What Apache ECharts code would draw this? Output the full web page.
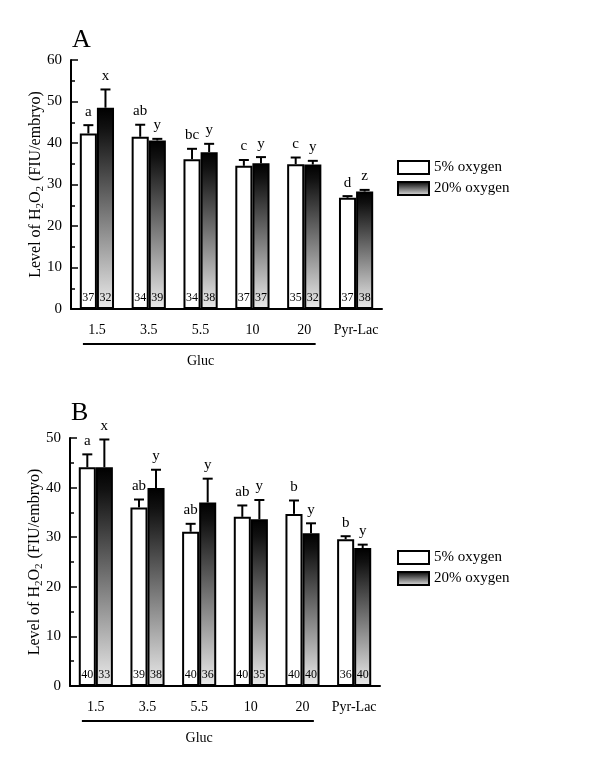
<!DOCTYPE html>
<html><head><meta charset="utf-8">
<script src="https://cdn.jsdelivr.net/npm/echarts@6/dist/echarts.min.js"></script>
<style>html,body{margin:0;padding:0;background:#fff}#c{width:600px;height:763px}</style>
</head><body><div id="c"></div>
<script>
const categories = ['1.5', '3.5', '5.5', '10', '20', 'Pyr-Lac'];
const seriesNames = ['5% oxygen', '20% oxygen'];

// Panel A
const meanA5 = [42.3, 41.5, 36.1, 34.5, 34.9, 26.8];
const semA5 = [2.0, 2.9, 2.5, 1.4, 1.6, 0.4];
const meanA20 = [48.5, 40.6, 37.8, 35.1, 34.8, 28.3];
const semA20 = [4.4, 0.4, 2.0, 1.5, 0.9, 0.4];
const letA5 = ['a', 'ab', 'bc', 'c', 'c', 'd'];
const letA20 = ['x', 'y', 'y', 'y', 'y', 'z'];
const nA5 = [37, 34, 34, 37, 35, 37];
const nA20 = [32, 39, 38, 37, 32, 38];
const ticksA = { min: 0, max: 60, interval: 10, minor: 5 };

// Panel B
const meanB5 = [44.1, 36.0, 31.1, 34.1, 34.7, 29.6];
const semB5 = [2.6, 1.6, 1.6, 2.3, 2.7, 0.6];
const meanB20 = [44.1, 39.9, 37.0, 33.6, 30.8, 27.8];
const semB20 = [5.6, 3.7, 4.8, 3.9, 2.0, 0.7];
const letB5 = ['a', 'ab', 'ab', 'ab', 'b', 'b'];
const letB20 = ['x', 'y', 'y', 'y', 'y', 'y'];
const nB5 = [40, 39, 40, 40, 40, 36];
const nB20 = [33, 38, 36, 35, 40, 40];
const ticksB = { min: 0, max: 50, interval: 10, minor: 5 };

const FONT = '"Liberation Serif", "Times New Roman", serif';
const darkGrad = { type: 'linear', x: 0, y: 0, x2: 0, y2: 1,
  colorStops: [{ offset: 0, color: '#000' }, { offset: 0.1, color: '#111' }, { offset: 1, color: '#ebebeb' }] };
const BARW = 0.33;

function xAxis(gi) {
  return {
    type: 'category', gridIndex: gi, data: categories,
    axisLine: { lineStyle: { color: '#000', width: 2 } },
    axisTick: { show: false },
    axisLabel: { interval: 0, color: '#000', fontSize: 14, fontFamily: FONT, margin: 14 }
  };
}
function yAxisMain(gi, t) {
  return {
    type: 'value', gridIndex: gi, position: 'left', min: t.min, max: t.max, interval: t.interval,
    name: '{a|Level of H}{s|2}{a|O}{t|2}{a|(FIU/embryo)}',
    nameLocation: 'middle', nameGap: 25, nameRotate: 90, nameMoveOverlap: false,
    nameTextStyle: {
      rich: {
        a: { fontSize: 16, fontFamily: FONT, color: '#000', lineHeight: 18, verticalAlign: 'top' },
        s: { fontSize: 11, fontFamily: FONT, color: '#000', lineHeight: 11, verticalAlign: 'bottom' },
        t: { fontSize: 11, fontFamily: FONT, color: '#000', lineHeight: 11, verticalAlign: 'bottom', padding: [0, 5, 0, 0] }
      }
    },
    axisLine: { show: true, lineStyle: { color: '#000', width: 2 } },
    axisTick: { show: true, inside: true, length: 7, lineStyle: { color: '#000', width: 1.5 } },
    splitLine: { show: false },
    axisLabel: { color: '#000', fontSize: 15, fontFamily: FONT, margin: 9 }
  };
}
function yAxisMinor(gi, t) {
  return {
    type: 'value', gridIndex: gi, position: 'left', offset: 0, min: t.min, max: t.max, interval: t.minor,
    axisLine: { show: false },
    axisTick: { show: true, inside: true, length: 4, lineStyle: { color: '#000', width: 1.5 } },
    splitLine: { show: false },
    axisLabel: { show: false }
  };
}
function bar(name, gi, yi, means, ns, dark) {
  return {
    type: 'bar', name: name, xAxisIndex: gi, yAxisIndex: yi,
    data: means, barWidth: (BARW * 100) + '%', barGap: '0%',
    itemStyle: { color: dark ? darkGrad : '#fff', borderColor: '#000', borderWidth: 2 },
    label: {
      show: true, position: 'insideBottom', distance: 5,
      formatter: p => String(ns[p.dataIndex]),
      color: '#000', fontSize: 12, fontFamily: FONT
    },
    emphasis: { disabled: true }, z: 2
  };
}
function err(gi, yi, means, sems, letters, side) {
  return {
    type: 'custom', xAxisIndex: gi, yAxisIndex: yi, z: 5, silent: true,
    data: means.map((m, i) => [i, m]),
    renderItem: function (params, api) {
      const i = params.dataIndex;
      const bw = api.size([1, 0])[0];
      const base = api.coord([i, means[i]]);
      const top = api.coord([i, means[i] + sems[i]]);
      const cx = base[0] + side * bw * BARW / 2;
      const cap = 5;
      return { type: 'group', children: [
        { type: 'line', shape: { x1: cx, y1: base[1], x2: cx, y2: top[1] }, style: { stroke: '#000', lineWidth: 2 } },
        { type: 'line', shape: { x1: cx - cap, y1: top[1], x2: cx + cap, y2: top[1] }, style: { stroke: '#000', lineWidth: 2 } },
        { type: 'text', x: cx, y: top[1] - 6, style: { text: letters[i], align: 'center', verticalAlign: 'bottom', fontSize: 15, fontFamily: FONT, fill: '#000' } }
      ]};
    }
  };
}
function legend(top) {
  return {
    left: 392, top: top, orient: 'vertical', data: seriesNames, icon: 'rect',
    itemWidth: 31, itemHeight: 13, itemGap: 6, itemTextGap: 6,
    textStyle: { fontSize: 15, fontFamily: FONT, color: '#000' },
    selectedMode: false
  };
}

const chart = echarts.init(document.getElementById('c'));
chart.setOption({
  animation: false,
  backgroundColor: '#fff',
  title: [
    { text: 'A', left: 67, top: 22, textStyle: { fontSize: 26, fontWeight: 'normal', fontFamily: FONT, color: '#000' } },
    { text: 'B', left: 66, top: 395, textStyle: { fontSize: 26, fontWeight: 'normal', fontFamily: FONT, color: '#000' } }
  ],
  legend: [legend(155), legend(545)],
  grid: [
    { left: 71, top: 60, width: 311, height: 249, outerBoundsMode: 'none' },
    { left: 70, top: 438, width: 310, height: 248, outerBoundsMode: 'none' }
  ],
  xAxis: [xAxis(0), xAxis(1)],
  yAxis: [yAxisMain(0, ticksA), yAxisMinor(0, ticksA), yAxisMain(1, ticksB), yAxisMinor(1, ticksB)],
  series: [
    bar(seriesNames[0], 0, 0, meanA5, nA5, false),
    bar(seriesNames[1], 0, 0, meanA20, nA20, true),
    err(0, 0, meanA5, semA5, letA5, -1),
    err(0, 0, meanA20, semA20, letA20, 1),
    bar(seriesNames[0], 1, 2, meanB5, nB5, false),
    bar(seriesNames[1], 1, 2, meanB20, nB20, true),
    err(1, 2, meanB5, semB5, letB5, -1),
    err(1, 2, meanB20, semB20, letB20, 1)
  ]
});

// "Gluc" grouping bracket under the glucose categories
const graphics = [];
[[0, 0], [1, 2]].forEach(([gi, yi]) => {
  const p0 = chart.convertToPixel({ xAxisIndex: gi, yAxisIndex: yi }, [0, 0]);
  const p1 = chart.convertToPixel({ xAxisIndex: gi, yAxisIndex: yi }, [1, 0]);
  const p4 = chart.convertToPixel({ xAxisIndex: gi, yAxisIndex: yi }, [4, 0]);
  const band = p1[0] - p0[0];
  const yLine = p0[1] + 35;
  graphics.push({ type: 'line', shape: { x1: p0[0] - 0.27 * band, y1: yLine, x2: p4[0] + 0.22 * band, y2: yLine }, style: { stroke: '#000', lineWidth: 2 } });
  graphics.push({ type: 'text', x: (p0[0] + p4[0]) / 2, y: yLine + 17, style: { text: 'Gluc', align: 'center', verticalAlign: 'middle', fontSize: 14, fontFamily: FONT, fill: '#000' } });
});
chart.setOption({ graphic: graphics });
</script>
</body></html>
